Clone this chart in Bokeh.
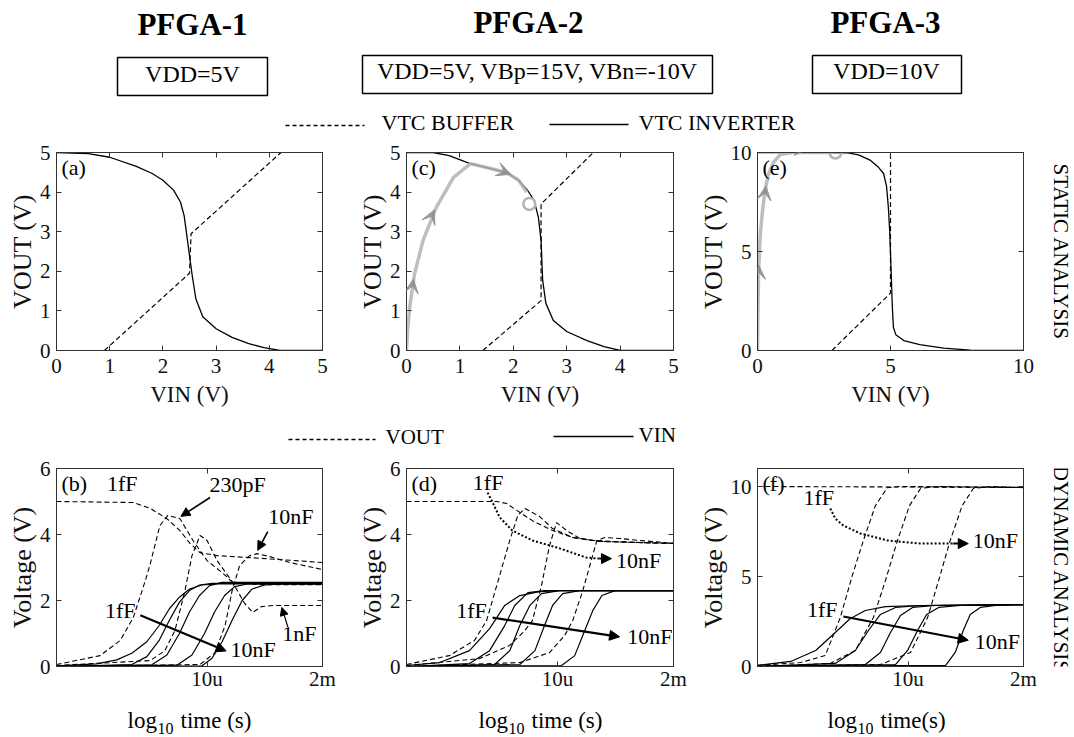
import numpy as np
from bokeh.plotting import figure
from bokeh.layouts import column, row
from bokeh.models import (Range1d, FixedTicker, LinearAxis, CustomJSTickFormatter,
                          Arrow, NormalHead, VeeHead)
from bokeh.core.properties import value
from bokeh.embed import file_html
from bokeh.resources import INLINE

# ---------------------------------------------------------------- data
titles = ["PFGA-1", "PFGA-2", "PFGA-3"]
supply_labels = ["VDD=5V", "VDD=5V, VBp=15V, VBn=-10V", "VDD=10V"]
static_legend = ["VTC BUFFER", "VTC INVERTER"]
dynamic_legend = ["VOUT", "VIN"]
row_labels = ["STATIC ANALYSIS", "DYNAMIC ANALYSIS"]
panel_tags = ["(a)", "(b)", "(c)", "(d)", "(e)", "(f)"]

ticks_0_5 = [0, 1, 2, 3, 4, 5]
ticks_0_10 = [0, 5, 10]
ticks_0_6 = [0, 2, 4, 6]
time_ticks = [-5.0, -2.699]          # log10 of 10u and 2m
time_tick_labels = ["10u", "2m"]

# (a) PFGA-1 static
a_inv_vin = [0, 0.6, 1.0, 1.5, 1.8, 2.0, 2.2, 2.33, 2.4, 2.44, 2.5, 2.55, 2.62, 2.75, 3.0, 3.3, 3.6, 3.9, 4.2, 5.0]
a_inv_vout = [5, 4.97, 4.88, 4.65, 4.47, 4.3, 4.05, 3.75, 3.4, 3.0, 2.4, 1.9, 1.3, 0.85, 0.55, 0.33, 0.18, 0.07, 0.0, 0.0]
a_buf_vin = [0.9, 2.5, 2.53, 4.22]
a_buf_vout = [0.0, 1.95, 2.95, 5.0]

# (c) PFGA-2 static
c_inv_vin = [0, 0.5, 0.8, 1.19, 1.5, 1.88, 2.1, 2.27, 2.39, 2.47, 2.52, 2.55, 2.61, 2.75, 3.0, 3.38, 3.7, 4.0, 5.0]
c_inv_vout = [5, 5.0, 4.92, 4.72, 4.62, 4.49, 4.3, 4.04, 3.79, 3.36, 2.78, 1.77, 1.19, 0.76, 0.48, 0.25, 0.1, 0.0, 0.0]
c_buf_vin = [1.43, 2.52, 2.52, 3.5]
c_buf_vout = [0.0, 1.26, 3.7, 5.0]
c_path_vin = [0, 0.02, 0.06, 0.15, 0.31, 0.56, 0.88, 1.2, 1.5, 1.88, 2.1, 2.25]
c_path_vout = [0, 0.5, 1.09, 1.93, 2.78, 3.62, 4.37, 4.72, 4.62, 4.49, 4.3, 4.0]
c_point = (2.3, 3.7)

# (e) PFGA-3 static
e_inv_vin = [0, 2.5, 3.4, 3.8, 4.25, 4.55, 4.74, 4.85, 4.92, 4.97, 5.0, 5.07, 5.11, 5.2, 5.5, 6.1, 7.0, 8.0, 10]
e_inv_vout = [10, 10, 9.98, 9.88, 9.6, 9.25, 8.94, 8.3, 7.22, 6.0, 4.9, 2.17, 1.16, 0.8, 0.5, 0.3, 0.12, 0.02, 0.0]
e_buf_vin = [2.8, 5.0, 5.0]
e_buf_vout = [0.0, 2.9, 10.0]
e_path_vin = [0, 0.01, 0.04, 0.1, 0.2, 0.3, 0.41, 0.6, 0.86, 1.3, 2.0, 2.8]
e_path_vout = [0, 1.5, 3.9, 5.8, 7.2, 8.2, 8.9, 9.5, 9.9, 10.0, 10.0, 10.0]
e_point = (2.93, 10.0)

# (b) PFGA-1 dynamic  (x = log10 time)
b_vin_t = [[-8, -7.2, -6.8, -6.5, -6.2, -5.95, -5.75, -5.55, -5.35, -5.1, -4.8, -2.7],
           [-8, -6.5, -6.2, -5.95, -5.75, -5.55, -5.35, -5.15, -4.9, -2.7],
           [-8, -6.1, -5.8, -5.55, -5.35, -5.15, -4.95, -4.7, -2.7],
           [-8, -5.6, -5.3, -5.05, -4.85, -4.65, -4.45, -4.2, -2.7],
           [-8, -5.1, -4.9, -4.7, -4.5, -4.3, -4.1, -3.85, -3.5, -2.7]]
b_vin_v = [[0.02, 0.08, 0.2, 0.4, 0.75, 1.25, 1.75, 2.1, 2.35, 2.47, 2.5, 2.5],
           [0.0, 0.06, 0.3, 0.8, 1.4, 1.95, 2.3, 2.47, 2.52, 2.52],
           [0.0, 0.05, 0.35, 1.0, 1.65, 2.15, 2.45, 2.55, 2.55],
           [0.0, 0.04, 0.35, 1.0, 1.65, 2.15, 2.42, 2.5, 2.5],
           [0.0, 0.02, 0.25, 0.75, 1.4, 2.0, 2.35, 2.47, 2.5, 2.5]]
b_vout_t = [[-8, -6.47, -6.13, -5.8, -5.54, -5.34, -5.14, -4.8, -4.15, -3.16, -2.7],
            [-8, -7.13, -6.73, -6.47, -6.23, -6.13, -5.94, -5.78, -5.54, -5.28, -5.0, -4.68, -4.49, -3.95, -2.7],
            [-8, -6.13, -5.84, -5.64, -5.44, -5.3, -5.14, -5.0, -4.8, -4.49, -4.25, -4.09, -3.91, -3.65, -2.7],
            [-8, -5.14, -4.84, -4.64, -4.5, -4.35, -4.15, -4.0, -3.75, -3.35, -2.7]]
b_vout_v = [[5.0, 4.97, 4.79, 4.48, 4.12, 3.73, 3.45, 3.36, 3.3, 3.2, 3.15],
            [0.06, 0.33, 0.79, 1.48, 2.6, 3.12, 4.27, 4.58, 4.48, 3.82, 3.21, 2.82, 2.55, 2.48, 2.48],
            [0.03, 0.18, 0.48, 1.09, 2.3, 3.36, 3.97, 3.82, 3.21, 2.55, 1.91, 1.64, 1.82, 1.85, 1.85],
            [0.0, 0.06, 0.42, 1.24, 2.3, 3.06, 3.36, 3.42, 3.33, 3.15, 2.94]]

# (d) PFGA-2 dynamic
d_vin_t = [[-8, -7.34, -6.75, -6.35, -6.05, -5.75, -5.36, -4.96, -2.7],
           [-8, -6.75, -6.35, -6.05, -5.85, -5.59, -5.26, -2.7],
           [-8, -6.25, -5.95, -5.75, -5.55, -5.32, -4.96, -2.7],
           [-8, -5.75, -5.45, -5.26, -5.1, -4.9, -4.56, -2.7],
           [-8, -4.92, -4.66, -4.46, -4.3, -4.12, -3.86, -2.7]]
d_vin_v = [[0.03, 0.12, 0.48, 1.15, 1.85, 2.15, 2.27, 2.3, 2.3],
           [0.0, 0.09, 0.48, 1.24, 1.85, 2.24, 2.3, 2.3],
           [0.0, 0.06, 0.48, 1.24, 1.85, 2.21, 2.3, 2.3],
           [0.0, 0.06, 0.48, 1.24, 1.85, 2.21, 2.3, 2.3],
           [0.0, 0.03, 0.33, 1.09, 1.7, 2.15, 2.3, 2.3]]
d_vout_t = [[-8, -6.21, -6.01, -5.81, -5.5, -5.1, -4.7, -4.3, -3.51, -2.7],
            [-8, -7.15, -6.65, -6.41, -6.15, -5.95, -5.79, -5.65, -5.36, -5.1, -4.7, -4.16, -2.7],
            [-8, -6.55, -5.95, -5.65, -5.5, -5.32, -5.16, -5.02, -4.82, -4.56, -4.16, -2.7],
            [-8, -5.75, -5.16, -4.86, -4.7, -4.5, -4.36, -4.22, -4.06, -3.77, -3.37, -2.7]]
d_vout_v = [[5.0, 5.0, 4.94, 4.73, 4.42, 4.12, 3.91, 3.82, 3.76, 3.73],
            [0.06, 0.33, 0.79, 1.39, 2.76, 3.82, 4.58, 4.79, 4.55, 4.18, 3.91, 3.79, 3.73],
            [0.03, 0.24, 0.64, 1.09, 1.39, 2.45, 3.67, 4.36, 4.12, 3.88, 3.79, 3.73],
            [0.0, 0.12, 0.42, 0.94, 1.39, 2.3, 3.06, 3.82, 3.91, 3.88, 3.82, 3.73]]

# (f) PFGA-3 dynamic
f_vin_t = [[-8, -7.34, -6.84, -6.45, -6.15, -5.85, -5.45, -4.75, -2.7],
           [-8, -6.45, -6.05, -5.79, -5.55, -5.25, -4.75, -2.7],
           [-8, -5.85, -5.55, -5.35, -5.15, -4.91, -4.45, -2.7],
           [-8, -5.25, -5.01, -4.81, -4.63, -4.39, -3.96, -2.7],
           [-8, -4.25, -4.06, -3.9, -3.76, -3.56, -3.26, -2.7]]
f_vin_v = [[0.06, 0.28, 0.89, 1.89, 2.67, 3.11, 3.33, 3.39, 3.44],
           [0.0, 0.17, 0.89, 2.0, 2.89, 3.28, 3.39, 3.44],
           [0.0, 0.11, 0.78, 1.89, 2.83, 3.28, 3.39, 3.44],
           [0.0, 0.11, 0.89, 2.0, 2.89, 3.28, 3.39, 3.44],
           [0.0, 0.06, 0.78, 2.0, 2.89, 3.28, 3.39, 3.44]]
f_vout_t = [[-8, -2.7],
            [-8, -7.14, -6.65, -6.35, -6.11, -5.89, -5.65, -5.41, -5.15, -2.7],
            [-8, -6.55, -6.05, -5.69, -5.45, -5.21, -4.97, -4.75, -4.45, -2.7],
            [-8, -5.55, -4.95, -4.61, -4.39, -4.16, -3.92, -3.7, -3.36, -2.7]]
f_vout_v = [[10.0, 9.95],
            [0.06, 0.22, 0.61, 2.72, 5.06, 7.0, 8.94, 9.94, 10.0, 9.94],
            [0.0, 0.17, 0.89, 2.72, 4.78, 7.0, 8.94, 9.89, 10.0, 9.94],
            [0.0, 0.11, 0.78, 2.72, 4.78, 7.0, 8.94, 9.89, 10.0, 9.94]]

# ---------------------------------------------------------------- style
SERIF = "Liberation Serif"
AX = "#333333"
INK = "#111111"
GREY = "#b3b3b3"
GREY_HEAD = "#8c8c8c"
FRAME_H = 198
DASH = "5 3"


def blank(w, h):
    p = figure(width=w, height=h, x_range=Range1d(0, w), y_range=Range1d(0, h),
               output_backend="svg", toolbar_location=None,
               x_axis_location=None, y_axis_location=None,
               min_border_left=0, min_border_right=0, min_border_top=0, min_border_bottom=0)
    p.grid.visible = False
    p.outline_line_color = None
    return p


def txt(p, x, y, t, size, align="center", baseline="middle", style="normal", angle=0.0):
    p.text(x=x, y=y, text=t, text_font=value(SERIF), text_font_size=size,
           text_font_style=style, text_align=align, text_baseline=baseline,
           text_color="black", angle=angle)


def panel(width, bl, br, bt, bb, xr, yr, xticks, yticks, xlabel=None, ylabel=None,
          xfmt=None, x_std=8, xl_std=2):
    p = figure(width=width, height=bt + FRAME_H + bb, x_range=Range1d(*xr), y_range=Range1d(*yr),
               output_backend="svg", toolbar_location=None,
               min_border_left=bl, min_border_right=br, min_border_top=bt, min_border_bottom=bb)
    p.grid.visible = False
    p.outline_line_color = AX
    xa, ya = p.below[0], p.left[0]
    xa.ticker = FixedTicker(ticks=xticks)
    ya.ticker = FixedTicker(ticks=yticks)
    if xfmt is not None:
        xa.formatter = xfmt
    for ax in (xa, ya):
        ax.major_tick_in = 5
        ax.major_tick_out = 0
        ax.minor_tick_line_color = None
        ax.axis_line_color = AX
        ax.major_tick_line_color = AX
        ax.major_label_text_font = SERIF
        ax.major_label_text_font_size = "21px"
        ax.major_label_text_color = INK
        ax.axis_label_text_font = SERIF
        ax.axis_label_text_font_style = "normal"
        ax.axis_label_text_color = INK
    xa.major_label_standoff = x_std
    ya.major_label_standoff = 6
    if xlabel:
        xa.axis_label = xlabel
        xa.axis_label_text_font_size = "23px"
        xa.axis_label_standoff = xl_std
    if ylabel:
        ya.axis_label = ylabel
        ya.axis_label_text_font_size = "26px"
        ya.axis_label_standoff = 0
    for loc, tk in (("above", xticks), ("right", yticks)):
        m = LinearAxis(ticker=FixedTicker(ticks=tk), formatter=CustomJSTickFormatter(code="return ''"),
                       major_tick_in=5, major_tick_out=0, minor_tick_line_color=None,
                       axis_line_color=AX, major_tick_line_color=AX,
                       major_label_text_font_size="0px", major_label_standoff=0,
                       major_label_text_color=None)
        p.add_layout(m, loc)
    fw = width - bl - br
    p._sx = (xr[1] - xr[0]) / fw          # data units per pixel
    p._sy = (yr[1] - yr[0]) / FRAME_H
    p._corner = (xr[0], yr[1])
    return p


def tag(p, t):
    x0, y1 = p._corner
    txt(p, [x0 + 5 * p._sx], [y1 - 2 * p._sy], [t], "22px", align="left", baseline="top")


def note(p, xs, ys, texts, size="22px"):
    # middle-baseline text, nudged 4 px up so the glyphs sit centred on the point
    txt(p, xs, [y + 4 * p._sy for y in ys], texts, size)


def arrow(p, x0, y0, x1, y1, lw=1.3, size=9):
    p.add_layout(Arrow(end=NormalHead(size=size, fill_color="black", line_color="black"),
                       x_start=x0, y_start=y0, x_end=x1, y_end=y1,
                       line_width=lw, line_color="black"))


def grey_head(p, x0, y0, x1, y1):
    p.add_layout(Arrow(end=VeeHead(size=14, fill_color=GREY_HEAD, fill_alpha=0.85,
                                   line_color=GREY_HEAD, line_alpha=0.85),
                       x_start=x0, y_start=y0, x_end=x1, y_end=y1, line_alpha=0))


time_fmt = CustomJSTickFormatter(args=dict(tks=time_ticks, lbls=time_tick_labels), code="""
    for (let i = 0; i < tks.length; i++) { if (Math.abs(tks[i] - tick) < 1e-3) return lbls[i]; }
    return '';
""")

# ---------------------------------------------------------------- header
hdr = blank(1074, 140)
txt(hdr, [192, 528, 885], [116, 118.5, 118.5], titles, "31px", style="bold")
hdr.quad(left=[117, 362, 812], right=[267, 712, 961], bottom=[45, 47, 47], top=[83, 85, 85],
         fill_color=None, line_color="black", line_width=1.5)
txt(hdr, [192, 537, 886], [66.5, 69.5, 69.5], supply_labels, "24px")
hdr.segment(x0=[285], y0=[15], x1=[364], y1=[15], line_color="black", line_width=1.3, line_dash="4 3")
hdr.segment(x0=[549], y0=[16], x1=[628], y1=[16], line_color="black", line_width=1.5)
txt(hdr, [381, 638], [18.5, 18.5], static_legend, "22px", align="left")

# ---------------------------------------------------------------- static row
pa = panel(345, 56, 23, 12, 65, (0, 5), (0, 5), ticks_0_5, ticks_0_5, "VIN (V)", "VOUT (V)", xl_std=6)
pc = panel(350, 61, 22, 12, 65, (0, 5), (0, 5), ticks_0_5, ticks_0_5, "VIN (V)", "VOUT (V)", xl_std=6)
pe = panel(345, 62, 17, 12, 65, (0, 10), (0, 10), ticks_0_10, ticks_0_10, "VIN (V)", "VOUT (V)", xl_std=6)

for p, iv, io, bv, bo in ((pa, a_inv_vin, a_inv_vout, a_buf_vin, a_buf_vout),
                          (pc, c_inv_vin, c_inv_vout, c_buf_vin, c_buf_vout),
                          (pe, e_inv_vin, e_inv_vout, e_buf_vin, e_buf_vout)):
    p.line(bv, bo, line_color="black", line_width=1.2, line_dash=DASH)
    p.line(iv, io, line_color="black", line_width=1.3)

for p, xv, yv, pt in ((pc, c_path_vin, c_path_vout, c_point), (pe, e_path_vin, e_path_vout, e_point)):
    p.line(xv, yv, line_color=GREY, line_width=3.5, line_alpha=0.85)
    p.scatter([pt[0]], [pt[1]], marker="circle", size=12, fill_color=None,
              line_color=GREY, line_width=2.5)

grey_head(pc, 0.08, 1.35, 0.13, 1.8)
grey_head(pc, 0.42, 3.25, 0.52, 3.55)
grey_head(pc, 1.7, 4.58, 1.95, 4.45)
grey_head(pe, 0.03, 3.0, 0.05, 4.3)
grey_head(pe, 0.2, 7.2, 0.32, 8.3)
grey_head(pe, 1.4, 10.2, 1.9, 10.2)

tag(pa, "(a)")
tag(pc, "(c)")
tag(pe, "(e)")

side1 = blank(34, 275)
txt(side1, [20], [137], [row_labels[0]], "21px", angle=-np.pi / 2)

# ---------------------------------------------------------------- legend 2
mid = blank(1074, 40)
mid.segment(x0=[288], y0=[16], x1=[375], y1=[16], line_color="black", line_width=1.3, line_dash="4 3")
mid.segment(x0=[553], y0=[19], x1=[633], y1=[19], line_color="black", line_width=1.5)
txt(mid, [385, 638], [19, 21], dynamic_legend, "21px", align="left")

# ---------------------------------------------------------------- dynamic row
TR = (-8, -2.699)
pb = panel(345, 56, 23, 13, 34, TR, (0, 6), time_ticks, ticks_0_6, None, "Voltage (V)", time_fmt, x_std=0)
pd = panel(350, 61, 22, 13, 34, TR, (0, 6), time_ticks, ticks_0_6, None, "Voltage (V)", time_fmt, x_std=0)
pf = panel(345, 62, 17, 13, 34, TR, (0, 11), time_ticks, ticks_0_10, None, "Voltage (V)", time_fmt, x_std=0)

for p, vt, vv, ot, ov in ((pb, b_vin_t, b_vin_v, b_vout_t, b_vout_v),
                          (pd, d_vin_t, d_vin_v, d_vout_t, d_vout_v),
                          (pf, f_vin_t, f_vin_v, f_vout_t, f_vout_v)):
    p.multi_line(ot, ov, line_color="black", line_width=1.1, line_dash=DASH)
    p.multi_line(vt, vv, line_color="black", line_width=1.2)

# (b) annotations
note(pb, [-6.69, -4.39, -3.33, -3.16, -6.73, -4.08], [5.41, 5.39, 4.42, 0.88, 1.58, 0.4],
     ["1fF", "230pF", "10nF", "1nF", "1fF", "10nF"])
arrow(pb, -4.94, 5.12, -5.52, 4.55, lw=1.6)
arrow(pb, -3.79, 4.09, -3.99, 3.52, lw=1.6)
arrow(pb, -3.39, 1.2, -3.51, 1.79, lw=1.2, size=8)
arrow(pb, -6.33, 1.55, -4.62, 0.47, lw=2.2, size=10)

# (d) annotations
d_dot_t = [-6.39, -6.29, -6.15, -5.9, -5.5, -4.96, -4.43, -4.17]
d_dot_v = [5.27, 4.97, 4.52, 4.12, 3.82, 3.58, 3.3, 3.27]
pd.line(d_dot_t, d_dot_v, line_color="black", line_width=2, line_dash="2 2")
arrow(pd, -4.17, 3.27, -3.93, 3.27, lw=2, size=10)
note(pd, [-6.38, -3.39, -6.71, -3.17], [5.45, 3.08, 1.58, 0.79], ["1fF", "10nF", "1fF", "10nF"])
arrow(pd, -6.29, 1.48, -3.77, 0.9, lw=2.2, size=10)

# (f) annotations
f_dot_t = [-6.55, -6.45, -6.29, -5.95, -5.41, -4.75, -4.1]
f_dot_v = [8.78, 8.22, 7.83, 7.39, 7.0, 6.83, 6.83]
pf.line(f_dot_t, f_dot_v, line_color="black", line_width=2, line_dash="2 2")
arrow(pf, -4.1, 6.83, -3.8, 6.83, lw=2, size=10)
note(pf, [-6.78, -3.26, -6.71, -3.22], [9.14, 6.8, 2.94, 1.17], ["1fF", "10nF", "1fF", "10nF"])
arrow(pf, -6.29, 2.78, -3.8, 1.46, lw=2.2, size=10)

tag(pb, "(b)")
tag(pd, "(d)")
tag(pf, "(f)")

side2 = blank(34, 245)
txt(side2, [20], [120], [row_labels[1]], "21px", angle=-np.pi / 2)

# ---------------------------------------------------------------- x labels of dynamic row
foot = blank(1074, 37)
txt(foot, [127, 478, 827], [17, 17, 17], ["log", "log", "log"], "23px", align="left", baseline="alphabetic")
txt(foot, [157, 508, 857], [9, 9, 9], ["10", "10", "10"], "16px", align="left", baseline="alphabetic")
txt(foot, [180, 531, 880], [17, 17, 17], ["time (s)", "time (s)", "time(s)"], "23px",
    align="left", baseline="alphabetic")

layout = column(hdr,
                row(pa, pc, pe, side1),
                mid,
                row(pb, pd, pf, side2),
                foot)

open("out.html", "w").write(file_html(layout, INLINE))
